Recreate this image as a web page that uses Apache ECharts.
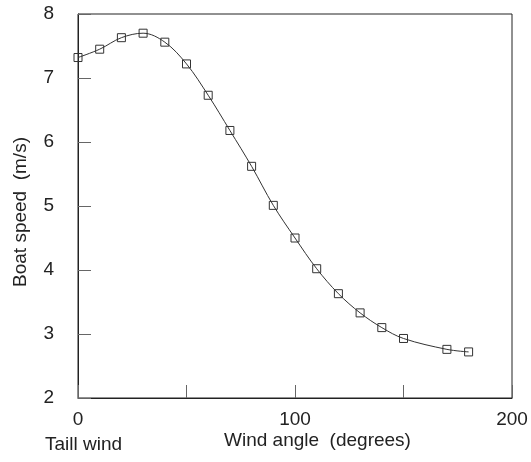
<!DOCTYPE html>
<html>
<head>
<meta charset="utf-8">
<script src="https://cdn.jsdelivr.net/npm/echarts@6/dist/echarts.min.js"></script>
<style>
  html, body { margin: 0; padding: 0; background: #fff; }
  #chart { width: 531px; height: 462px; }
</style>
</head>
<body>
<div id="chart"></div>
<script>
// Wind angle (degrees) and measured boat speed (m/s)
const windAngle = [0, 10, 20, 30, 40, 50, 60, 70, 80, 90, 100, 110, 120, 130, 140, 150, 170, 180];
const boatSpeed = [7.32, 7.45, 7.63, 7.70, 7.56, 7.22, 6.73, 6.18, 5.62, 5.01, 4.50, 4.02, 3.63, 3.33, 3.10, 2.93, 2.76, 2.72];
const xTickLabels = ['0', '100', '200'];
const yTickLabels = ['2', '3', '4', '5', '6', '7', '8'];

const FONT = '"Liberation Sans", Arial, sans-serif';
const TEXT = '#222';

const chart = echarts.init(document.getElementById('chart'), null, { renderer: 'canvas' });

const points = windAngle.map((a, i) => [a, boatSpeed[i]]);

chart.setOption({
  animation: false,
  backgroundColor: '#fff',
  grid: {
    left: 78, right: 19, top: 14, bottom: 64,
    show: true, borderColor: '#222', borderWidth: 1, backgroundColor: 'transparent'
  },
  xAxis: {
    type: 'value', min: 0, max: 200, interval: 50,
    axisLine: { show: true, lineStyle: { color: '#222', width: 1 } },
    axisTick: { show: true, inside: true, length: 13, lineStyle: { color: '#666', width: 1 } },
    axisLabel: {
      margin: 12, fontFamily: FONT, fontSize: 19, color: TEXT,
      formatter: v => (xTickLabels.includes(String(v)) ? String(v) : '')
    },
    splitLine: { show: false }
  },
  yAxis: {
    type: 'value', min: 2, max: 8, interval: 1,
    axisLine: { show: true, lineStyle: { color: '#222', width: 1 } },
    axisTick: { show: true, inside: true, length: 13, lineStyle: { color: '#666', width: 1 } },
    axisLabel: {
      margin: 24, fontFamily: FONT, fontSize: 19, color: TEXT,
      formatter: v => (yTickLabels.includes(String(v)) ? String(v) : '')
    },
    splitLine: { show: false }
  },
  graphic: [
    {
      type: 'text', left: 224, top: 431,
      style: { text: 'Wind angle  (degrees)', font: '19px ' + FONT, fill: TEXT }
    },
    {
      type: 'text', left: 45, top: 435,
      style: { text: 'Taill wind', font: '19px ' + FONT, fill: TEXT }
    },
    {
      type: 'text', rotation: Math.PI / 2,
      x: 21, y: 212,
      style: {
        text: 'Boat speed  (m/s)', font: '19px ' + FONT, fill: TEXT,
        align: 'center', verticalAlign: 'middle'
      }
    }
  ],
  series: [{
    type: 'line',
    data: points,
    smooth: 0.35,
    symbol: 'rect',
    symbolSize: 8,
    showAllSymbol: true,
    clip: false,
    lineStyle: { color: '#333', width: 1 },
    itemStyle: { color: 'rgba(255,255,255,0)', borderColor: '#333', borderWidth: 1 }
  }]
});
</script>
</body>
</html>
